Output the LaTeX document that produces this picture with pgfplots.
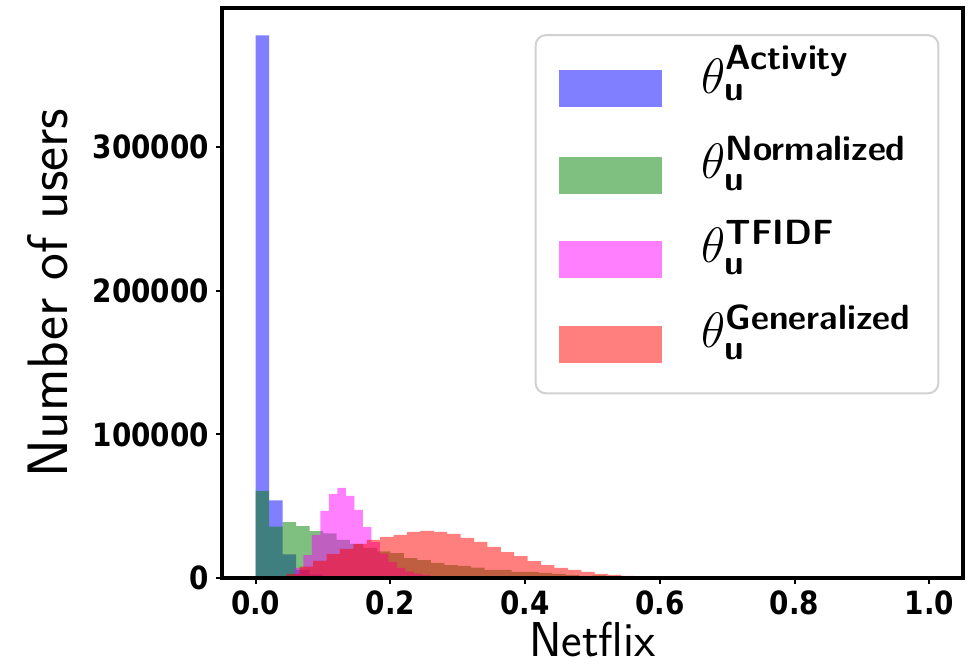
\documentclass[border=0pt]{standalone}
\usepackage{amsmath}
\usepackage{pgfplots}
\pgfplotsset{compat=1.18}
\usepackage{fontspec}
\newfontfamily\tickfont{DejaVu Sans}[FakeStretch=0.87]
\definecolor{mplblue}{RGB}{0,0,255}
\definecolor{mplgreen}{RGB}{0,128,0}
\definecolor{mplmag}{RGB}{255,0,255}
\definecolor{mplred}{RGB}{255,0,0}
\begin{document}
\begin{tikzpicture}
\begin{axis}[
  name=ax,
  scale only axis, width=370.5pt, height=285pt,
  xmin=-0.05, xmax=1.05, ymin=0, ymax=397000,
  axis line style={line width=2.2pt},
  axis on top,
  tick pos=left, tick align=outside,
  major tick length=3pt,
  tick style={line width=1pt, black},
  xtick={0,0.2,0.4,0.6,0.8,1.0},
  ytick={0,100000,200000,300000},
  scaled ticks=false,
  xticklabel style={/pgf/number format/.cd, fixed, fixed zerofill, precision=1},
  yticklabel style={/pgf/number format/.cd, fixed, set thousands separator={}},
  /pgf/number format/assume math mode=true,
  tick label style={font=\tickfont\bfseries\fontsize{16}{18}\selectfont},
  xlabel={Netflix}, ylabel={Number of users},
  ylabel style={font=\sffamily\fontsize{28.5}{32}\selectfont, at={(axis description cs:-0.235,0.5)}, anchor=center},
  xlabel style={font=\sffamily\fontsize{24.5}{28}\selectfont, at={(axis description cs:0.5,-0.108)}, anchor=center},
  legend style={at={(0.968,0.954)}, anchor=north east, draw=black!18, line width=1pt,
    rounded corners=5pt, font=\fontsize{25}{30}\selectfont, row sep=-1pt, column sep=18pt,
    inner xsep=11.5pt, inner ysep=3pt, nodes={text depth=18pt}},
  legend cell align=left,
  legend image code/.code={\fill[#1, sharp corners] (0pt,-9.5pt) rectangle (51.5pt,9pt);},
]
% Activity (blue)
\addplot[const plot, draw=none, fill=mplblue, fill opacity=0.5] coordinates {
(0.00,378000) (0.02,54000) (0.04,16500) (0.06,5500) (0.08,2500) (0.10,1200)
(0.12,600) (0.14,300) (0.16,150) (0.18,80) (0.20,40) (0.22,0)
} \closedcycle;
\addlegendentry{$\theta^{\textsf{\textbf{Activity}}}_{\textsf{\textbf{u}}}$}
% Normalized (green)
\addplot[const plot, draw=none, fill=mplgreen, fill opacity=0.5] coordinates {
(0.00,60600) (0.02,35800) (0.04,39000) (0.06,36200) (0.08,32700) (0.10,31000)
(0.12,26500) (0.14,23700) (0.16,21000) (0.18,18500) (0.20,17400) (0.22,13900)
(0.24,12500) (0.26,10500) (0.28,9000) (0.30,8400) (0.32,7300) (0.34,5600)
(0.36,5600) (0.38,4200) (0.40,4200) (0.42,3500) (0.44,2800) (0.46,2100)
(0.48,1400) (0.50,1800) (0.52,1300) (0.54,1200) (0.56,1200) (0.58,500)
(0.60,1200) (0.62,300) (0.64,200) (0.66,100) (0.68,50) (0.70,0)
} \closedcycle;
\addlegendentry{$\theta^{\textsf{\textbf{Normalized}}}_{\textsf{\textbf{u}}}$}
% TFIDF (magenta)
\addplot[const plot, draw=none, fill=mplmag, fill opacity=0.5] coordinates {
(0.0457,1500) (0.0583,7000) (0.0709,16000) (0.0835,30000) (0.0961,46700)
(0.1087,58500) (0.1213,62700) (0.1339,57200) (0.1465,47400) (0.1591,35500)
(0.1717,25000) (0.1843,17000) (0.1969,11000) (0.2095,7000) (0.2221,4500)
(0.2347,3000) (0.2473,2000) (0.2599,1200) (0.2725,800) (0.2851,500)
(0.2977,300) (0.3103,150) (0.3229,0)
} \closedcycle;
\addlegendentry{$\theta^{\textsf{\textbf{TFIDF}}}_{\textsf{\textbf{u}}}$}
% Generalized (red)
\addplot[const plot, draw=none, fill=mplred, fill opacity=0.5] coordinates {
(0.0455,2800) (0.0654,7900) (0.0853,12000) (0.1052,16700) (0.1251,20200)
(0.1450,23700) (0.1649,26500) (0.1848,28600) (0.2047,30000) (0.2246,32100)
(0.2445,32800) (0.2644,32100) (0.2843,30700) (0.3042,27900) (0.3241,25100)
(0.3440,21600) (0.3639,18100) (0.3838,15300) (0.4037,11800) (0.4236,9000)
(0.4435,7000) (0.4634,5600) (0.4833,4200) (0.5032,2800) (0.5231,2100)
(0.5430,1400) (0.5629,700) (0.5828,350) (0.6027,150) (0.6226,50) (0.6425,0)
} \closedcycle;
\addlegendentry{$\theta^{\textsf{\textbf{Generalized}}}_{\textsf{\textbf{u}}}$}
\end{axis}
\path (ax.south west) ++(-111pt,-41.5pt) rectangle ++(484pt,330.5pt);
\end{tikzpicture}
\end{document}
